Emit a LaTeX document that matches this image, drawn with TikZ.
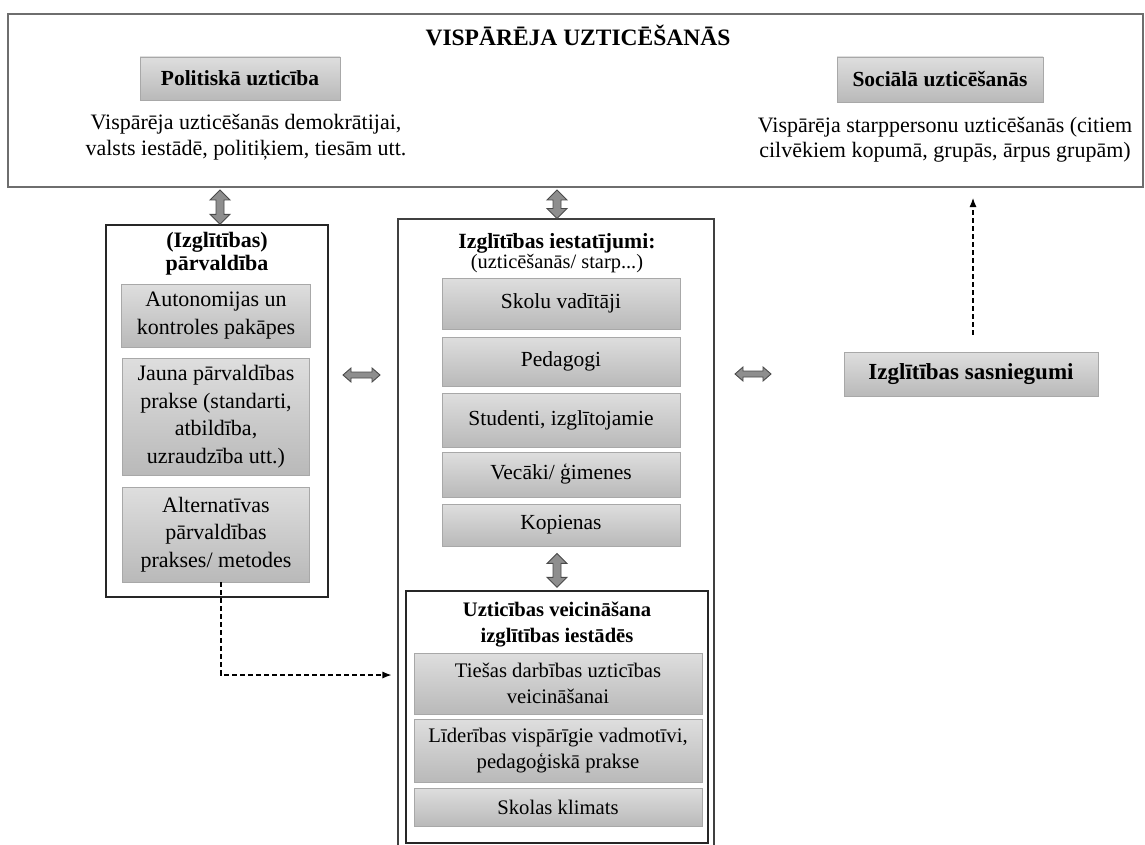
\documentclass[tikz,border=0pt]{standalone}
\usepackage{fontspec}
\setmainfont{Liberation Serif}
\usetikzlibrary{calc,arrows.meta}
\definecolor{gtop}{HTML}{DEDEDE}
\definecolor{gbot}{HTML}{B9B9B9}
\definecolor{gedge}{HTML}{A8A8A8}
\definecolor{arrfill}{HTML}{8E8E8E}
\definecolor{arredge}{HTML}{4A4A4A}
\definecolor{outeredge}{HTML}{6E6E6E}
\newcommand{\vdarr}[2]{%
  \filldraw[blockarr] (#1) -- ++(10,10) -- ++(-6,0) -- ($(#2)+(4,-10)$) -- ++(6,0) -- (#2)
    -- ++(-10,-10) -- ++(6,0) -- ($(#1)+(-4,10)$) -- ++(-6,0) -- cycle;}
\newcommand{\hdarr}[2]{%
  \filldraw[blockarr] (#1) -- ++(8,-7) -- ++(0,4) -- ($(#2)+(-8,-3)$) -- ++(0,-4) -- (#2)
    -- ++(-8,7) -- ++(0,-4) -- ($(#1)+(8,3)$) -- ++(0,4) -- cycle;}
\begin{document}
\begin{tikzpicture}[x=1pt,y=-1pt,
  gbox/.style={draw=gedge, line width=0.8pt, top color=gtop, bottom color=gbot, align=center, inner sep=0pt},
  framebox/.style={draw=black!85, line width=1.4pt, inner sep=0pt},
  blockarr/.style={fill=arrfill, draw=arredge, line width=0.9pt, line join=miter},
  dasharr/.style={line width=1.1pt, dash pattern=on 5pt off 3pt, -{Latex[length=9pt,width=7pt]}},
  fdesc/.style={font=\fontsize{22}{25.5}\selectfont, align=center, inner sep=0pt},
  fleft/.style={font=\fontsize{22}{27.5}\selectfont},
  fmid/.style={font=\fontsize{21.5}{26}\selectfont},
  finner/.style={font=\fontsize{20.7}{26}\selectfont},
  flabel/.style={font=\fontsize{21.5}{26}\selectfont\bfseries}
]
\useasboundingbox (0,0) rectangle (1145,845);
\clip (0,0) rectangle (1145,845);
\fill[white] (0,0) rectangle (1145,845);

% top frame
\node[draw=outeredge, line width=2pt, minimum width=1135pt, minimum height=173pt, inner sep=0pt] (outer) at (575.5,100.5) {};
\node[font=\fontsize{23.5}{28}\selectfont\bfseries, inner sep=0pt] (title) at (578,35) {VISPĀRĒJA UZTICĒŠANĀS};
\node[gbox, flabel, minimum width=200pt, minimum height=43pt] (pol) at (240,78.5) {Politiskā uzticība};
\node[fdesc] (poldesc) at (246,137) {Vispārēja uzticēšanās demokrātijai,\\valsts iestādē, politiķiem, tiesām utt.};
\node[gbox, flabel, minimum width=206pt, minimum height=45pt] (soc) at (940,79.5) {Sociālā uzticēšanās};
\node[fdesc] (socdesc) at (945,139.5) {Vispārēja starppersonu uzticēšanās (citiem\\cilvēkiem kopumā, grupās, ārpus grupām)};

% left frame
\node[framebox, minimum width=222pt, minimum height=372pt] (left) at (217,411) {};
\node[font=\fontsize{22}{23}\selectfont\bfseries, align=center, inner sep=0pt] (lefth) at (217,254) {(Izglītības)\\pārvaldība};
\node[gbox, fleft, minimum width=189pt, minimum height=63pt] (aut) at (216,315.5) {Autonomijas un\\kontroles pakāpes};
\node[gbox, fleft, minimum width=187pt, minimum height=117pt] (jau) at (216,416.5) {Jauna pārvaldības\\prakse (standarti,\\atbildība,\\uzraudzība utt.)};
\node[gbox, fleft, minimum width=187pt, minimum height=95pt] (alt) at (216,534.5) {Alternatīvas\\pārvaldības\\prakses/ metodes};

% middle frame
\node[draw=black!75, line width=1.1pt, minimum width=316pt, minimum height=660pt, inner sep=0pt] (mid) at (556,549) {};
\node[align=center, inner sep=0pt] (midh) at (557,253) {\fontsize{21.7}{26}\selectfont\textbf{Izglītības iestatījumi:}\\\fontsize{20.4}{26}\selectfont(uzticēšanās/ starp...)};
\node[gbox, fmid, minimum width=238pt, minimum height=51pt] (sk) at (561,303.5) {Skolu vadītāji};
\node[gbox, fmid, minimum width=238pt, minimum height=49pt] (pe) at (561,361.5) {Pedagogi};
\node[gbox, fmid, minimum width=238pt, minimum height=54pt] (st) at (561,420) {Studenti, izglītojamie};
\node[gbox, fmid, minimum width=238pt, minimum height=45pt] (ve) at (561,474.5) {Vecāki/ ģimenes};
\node[gbox, fmid, minimum width=238pt, minimum height=42pt] (ko) at (561,525) {Kopienas};

% inner frame
\node[framebox, minimum width=302pt, minimum height=252pt] (inner) at (557,717) {};
\node[font=\fontsize{20.6}{26}\selectfont\bfseries, align=center, inner sep=0pt] (innerh) at (557,625) {Uzticības veicināšana\\izglītības iestādēs};
\node[gbox, finner, minimum width=288pt, minimum height=61pt] (tie) at (558,683.5) {Tiešas darbības uzticības\\veicināšanai};
\node[gbox, finner, minimum width=288pt, minimum height=63pt] (lid) at (558,750.5) {Līderības vispārīgie vadmotīvi,\\pedagoģiskā prakse};
\node[gbox, finner, minimum width=288pt, minimum height=38pt] (skl) at (558,807) {Skolas klimats};

% outcome
\node[gbox, font=\fontsize{23}{27}\selectfont\bfseries, minimum width=254pt, minimum height=44pt] (sas) at (971,374) {Izglītības sasniegumi};

% block arrows
\coordinate (a1t) at ($(left.north |- outer.south)+(3,2)$);
\coordinate (a1b) at ($(left.north)+(3,0)$);
\vdarr{a1t}{a1b}
\coordinate (a2t) at ($(mid.north |- outer.south)+(1,2)$);
\coordinate (a2b) at ($(mid.north)+(1,0)$);
\vdarr{a2t}{a2b}
\coordinate (a3t) at ($(inner.north |- ko.south)+(0,7)$);
\coordinate (a3b) at ($(inner.north)+(0,-3)$);
\vdarr{a3t}{a3b}
\coordinate (h1l) at (343,375);
\coordinate (h1r) at (380,375);
\hdarr{h1l}{h1r}
\coordinate (h2l) at (735,374);
\coordinate (h2r) at (771,374);
\hdarr{h2l}{h2r}

% dashed connectors
\coordinate (d1end) at ($(mid.west |- 0,675)+(-6,0)$);
\draw[dasharr] ($(alt.south)+(5,0)$) |- (d1end);
\coordinate (d2end) at ($(sas.north |- outer.south)+(2,10)$);
\draw[dasharr] ($(sas.north)+(2,-17)$) -- (d2end);
\end{tikzpicture}
\end{document}
